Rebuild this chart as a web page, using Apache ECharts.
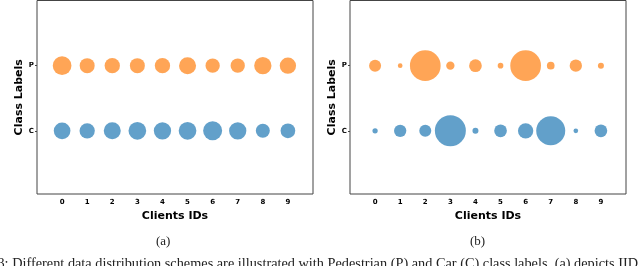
<!DOCTYPE html>
<html><head><meta charset="utf-8">
<script src="https://cdn.jsdelivr.net/npm/echarts@6/dist/echarts.min.js"></script>
<style>html,body{margin:0;padding:0;background:#fff}#c{width:640px;height:266px}</style>
</head><body><div id="c"></div>
<script>
// Client IDs (x categories) and class labels (y categories)
const clientIds = [0, 1, 2, 3, 4, 5, 6, 7, 8, 9];
const classLabels = ['C', 'P'];
// Relative sample counts per client (bubble area), panel (a) IID
const iidPedestrian = [350, 225, 234, 225, 234, 289, 204, 204, 299, 266];
const iidCar        = [279, 234, 289, 313, 299, 313, 361, 299, 196, 216];
// Panel (b) non-IID
const nonIidPedestrian = [144, 22, 942, 69, 161, 32, 942, 59, 151, 36];
const nonIidCar        = [28, 151, 144, 961, 36, 161, 234, 841, 22, 161];
const panelCaptions = ['(a)', '(b)'];
const figureCaption = 'Figure 3: Different data distribution schemes are illustrated with Pedestrian (P) and Car (C) class labels. (a) depicts IID';

const ORANGE = 'rgba(255,127,14,0.7)';
const BLUE = 'rgba(31,119,180,0.7)';
const FONT = 'DejaVu Sans';

function pts(vals, cls) {
  return clientIds.map((id, i) => ({value: [id, classLabels.indexOf(cls)], symbolSize: Math.sqrt(vals[i])}));
}
const grids = [
  {left: 37, top: 0.5, width: 276, height: 193.5},
  {left: 350, top: 0.5, width: 276, height: 193.5}
];
const xAxes = [], yAxes = [];
grids.forEach((g, k) => {
  g.show = true; g.borderColor = '#444'; g.borderWidth = 1; g.backgroundColor = 'transparent';
  xAxes.push({
    type: 'value', gridIndex: k, min: -1, max: 10,
    name: 'Clients IDs', nameLocation: 'middle', nameGap: 13,
    nameTextStyle: {fontFamily: FONT, fontWeight: 'bold', fontSize: 11, color: '#000'},
    axisLine: {show: false, onZero: false}, splitLine: {show: false},
    axisTick: {show: false},
    axisLabel: {fontFamily: FONT, fontWeight: 'bold', fontSize: 7, color: '#000', margin: 5,
      customValues: clientIds, formatter: v => String(v)}
  });
  yAxes.push({
    type: 'value', gridIndex: k, min: -0.97, max: 2,
    name: 'Class Labels', nameLocation: 'middle', nameGap: 7, nameRotate: 90,
    nameTextStyle: {fontFamily: FONT, fontWeight: 'bold', fontSize: 11, color: '#000'},
    axisLine: {show: false, onZero: false}, splitLine: {show: false},
    axisTick: {show: true, length: 2, lineStyle: {color: '#444'}, customValues: [0, 1]},
    axisLabel: {fontFamily: FONT, fontWeight: 'bold', fontSize: 7, color: '#000', margin: 3,
      customValues: [0, 1], formatter: v => classLabels[Math.round(v)]}
  });
});
function sc(k, data, color) {
  return {
    type: 'scatter', xAxisIndex: k, yAxisIndex: k, data: data,
    itemStyle: {color: color, opacity: 1},
    label: {show: false},
    emphasis: {disabled: true}, silent: true, animation: false
  };
}
const chart = echarts.init(document.getElementById('c'), null, {renderer: 'canvas'});
chart.setOption({
  animation: false,
  grid: grids, xAxis: xAxes, yAxis: yAxes,
  series: [
    sc(0, pts(iidPedestrian, 'P'), ORANGE),
    sc(0, pts(iidCar, 'C'), BLUE),
    sc(1, pts(nonIidPedestrian, 'P'), ORANGE),
    sc(1, pts(nonIidCar, 'C'), BLUE)
  ],
  graphic: [
    {type: 'text', left: 156, top: 235, style: {text: panelCaptions[0], font: '13px "Liberation Serif"', fill: '#222'}},
    {type: 'text', left: 470, top: 235, style: {text: panelCaptions[1], font: '13px "Liberation Serif"', fill: '#222'}},
    {type: 'text', right: 2, top: 257, style: {text: figureCaption, font: '14.3px "Liberation Serif"', fill: '#222'}}
  ]
});
</script></body></html>
